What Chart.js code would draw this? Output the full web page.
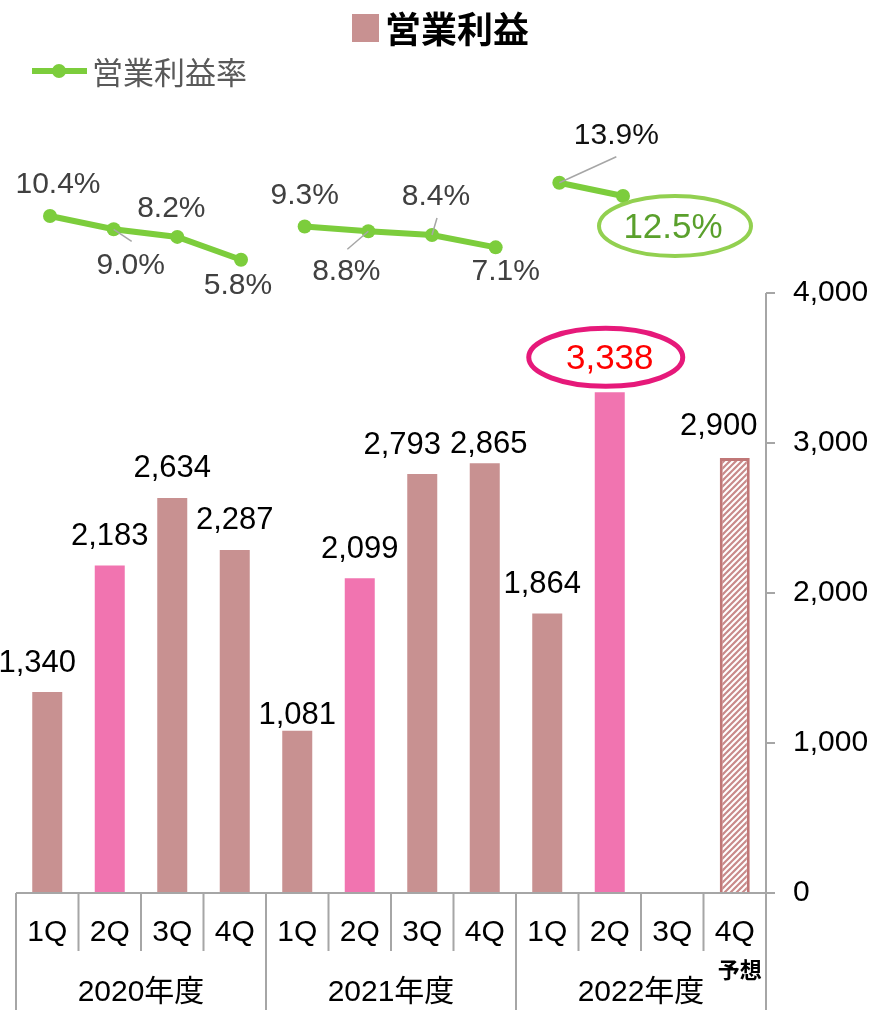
<!DOCTYPE html>
<html lang="ja">
<head>
<meta charset="utf-8">
<script src="https://cdn.jsdelivr.net/npm/chart.js@4.4.1/dist/chart.umd.min.js"></script>
<style>
  html, body { margin: 0; padding: 0; background: #fff; }
  #wrap { width: 875px; height: 1010px; }
</style>
</head>
<body>
<div id="wrap"><canvas id="profitChart" width="875" height="1010"></canvas></div>
<script>
// categories
const quarters = ['1Q', '2Q', '3Q', '4Q', '1Q', '2Q', '3Q', '4Q', '1Q', '2Q', '3Q', '4Q'];
const fiscalYears = ['2020年度', '2021年度', '2022年度'];

// 営業利益 (bars), 2022年度 3Q not yet reported, 4Q is the forecast
const operatingProfit = [1340, 2183, 2634, 2287, 1081, 2099, 2793, 2865, 1864, 3338, null, 2900];
const forecastIndex = 11;
const highlightIndex = 9;

// 営業利益率 (%), one line per fiscal year
const margin2020 = [10.4, 9.0, 8.2, 5.8];
const margin2021 = [9.3, 8.8, 8.4, 7.1];
const margin2022 = [13.9, 12.5];

const profitTicks = [0, 1000, 2000, 3000, 4000];

// label nudges (px) - kept apart from the data
const barLabelNudge = [[-10, 0], [0, 0], [0, 0], [0, 0], [0, 14], [0, 0], [-20, 0], [4, 10], [-5, 0], [0, -4], [0, 0], [-16, -3]];
// percent label offset from its point, plus leader line end (if any)
const marginLabelPos = [
    { dx: 8, dy: -31 }, { dx: 17, dy: 36, lx: 18, ly: 12 }, { dx: -6, dy: -28 }, { dx: -3, dy: 26 },
    { dx: 0, dy: -31 }, { dx: -22, dy: 41, lx: -21, ly: 18 }, { dx: 4, dy: -38, lx: 5, ly: -17 }, { dx: 10, dy: 24 },
    { dx: 57, dy: -47, lx: 57, ly: -26 }, { dx: 50, dy: 32 }
];

const FONT = '"Liberation Sans", Arial, "Noto Sans CJK JP", sans-serif';
const JFONT = '"Liberation Sans", "Noto Sans CJK JP", sans-serif';

const brown = '#c89191';
const pink = '#f174b0';
const green = '#7ccd3c';

// hatched fill for the forecast bar
function makeHatch() {
    const c = document.createElement('canvas');
    c.width = 6; c.height = 6;
    const g = c.getContext('2d');
    g.fillStyle = '#c98a8a';
    g.fillRect(0, 0, 6, 6);
    g.strokeStyle = '#ffffff';
    g.lineWidth = 2;
    g.beginPath();
    g.moveTo(0, 6); g.lineTo(6, 0);
    g.moveTo(-3, 3); g.lineTo(3, -3);
    g.moveTo(3, 9); g.lineTo(9, 3);
    g.stroke();
    return g.createPattern(c, 'repeat');
}
const hatch = makeHatch();

const barColors = operatingProfit.map((v, i) => i === forecastIndex ? hatch : (quarters[i] === '2Q' ? pink : brown));
const barBorders = operatingProfit.map((v, i) => i === forecastIndex ? 3 : 0);

function lineSet(values, start) {
    return {
        type: 'line',
        xAxisID: 'xLine',
        yAxisID: 'yMargin',
        data: values.map((v, k) => ({ x: start + k, y: v })),
        borderColor: green,
        backgroundColor: green,
        borderWidth: 6,
        pointRadius: 7,
        pointBorderWidth: 0,
        pointBackgroundColor: green,
        tension: 0
    };
}

const drawExtras = {
    id: 'drawExtras',
    afterDatasetsDraw(chart) {
        const ctx = chart.ctx;
        const area = chart.chartArea;
        const xs = chart.scales.x;
        const ys = chart.scales.y;
        ctx.save();

        // value axis line, only over the tick range
        ctx.strokeStyle = '#a6a6a6';
        ctx.lineWidth = 2;
        ctx.beginPath();
        ctx.moveTo(area.right, ys.getPixelForValue(profitTicks[profitTicks.length - 1]));
        ctx.lineTo(area.right, ys.getPixelForValue(0));
        ctx.stroke();

        // value labels above bars
        const barMeta = chart.getDatasetMeta(0);
        ctx.textAlign = 'center';
        ctx.textBaseline = 'middle';
        operatingProfit.forEach((v, i) => {
            if (v === null) return;
            const bar = barMeta.data[i];
            const x = bar.x + barLabelNudge[i][0];
            const y = bar.y - 29 + barLabelNudge[i][1];
            const txt = v.toLocaleString('en-US');
            if (i === highlightIndex) {
                ctx.strokeStyle = '#e6197a';
                ctx.lineWidth = 5;
                ctx.beginPath();
                ctx.ellipse(x - 4, y - 2, 77, 29, 0, 0, Math.PI * 2);
                ctx.stroke();
                ctx.fillStyle = '#ff0000';
                ctx.font = '35px ' + FONT;
            } else {
                ctx.fillStyle = '#000';
                ctx.font = '31px ' + FONT;
            }
            ctx.fillText(txt, x, y);
        });

        // percent labels
        const pts = [];
        [1, 2, 3].forEach(d => chart.getDatasetMeta(d).data.forEach(p => pts.push(p)));
        const margins = margin2020.concat(margin2021, margin2022);
        pts.forEach((p, i) => {
            const pos = marginLabelPos[i];
            if (pos.lx !== undefined) {
                ctx.strokeStyle = '#a6a6a6';
                ctx.lineWidth = 1.5;
                ctx.beginPath();
                ctx.moveTo(p.x, p.y);
                ctx.lineTo(p.x + pos.lx, p.y + pos.ly);
                ctx.stroke();
            }
            const txt = margins[i].toFixed(1) + '%';
            const x = p.x + pos.dx, y = p.y + pos.dy;
            if (i === margins.length - 1) {
                ctx.strokeStyle = '#92d050';
                ctx.lineWidth = 4;
                ctx.beginPath();
                ctx.ellipse(x + 2, y - 2, 76, 30, 0, 0, Math.PI * 2);
                ctx.stroke();
                ctx.fillStyle = '#5aa02c';
                ctx.font = '35px ' + FONT;
            } else {
                ctx.fillStyle = i === 8 ? '#111' : '#404040';
                ctx.font = '30px ' + FONT;
            }
            ctx.fillText(txt, x, y);
        });

        // two level category axis
        const half = (xs.getPixelForValue(1) - xs.getPixelForValue(0)) / 2;
        const base = area.bottom;
        ctx.strokeStyle = '#a6a6a6';
        ctx.lineWidth = 2;
        ctx.beginPath();
        ctx.moveTo(xs.getPixelForValue(0) - half, base);
        ctx.lineTo(area.right + 9, base);
        for (let i = 0; i <= quarters.length; i++) {
            const bx = xs.getPixelForValue(0) - half + i * half * 2;
            ctx.moveTo(bx, base);
            ctx.lineTo(bx, i % 4 === 0 ? chart.height : base + 58);
        }
        ctx.stroke();

        ctx.fillStyle = '#000';
        ctx.font = '30px ' + FONT;
        quarters.forEach((q, i) => ctx.fillText(q, xs.getPixelForValue(i), base + 40));
        ctx.font = '30px ' + JFONT;
        fiscalYears.forEach((y, k) => {
            const cx = (xs.getPixelForValue(k * 4) + xs.getPixelForValue(k * 4 + 3)) / 2;
            ctx.fillText(y, cx, base + 100);
        });
        ctx.font = 'bold 22px "Noto Sans CJK JP", sans-serif';
        ctx.fillText('予想', xs.getPixelForValue(forecastIndex) + 5, base + 77);

        // legend
        ctx.fillStyle = brown;
        ctx.fillRect(352, 14, 27, 28);
        ctx.fillStyle = '#000';
        ctx.font = 'bold 36px "Noto Sans CJK JP", sans-serif';
        ctx.textAlign = 'left';
        ctx.fillText('営業利益', 385, 29);

        ctx.strokeStyle = green;
        ctx.lineWidth = 6;
        ctx.beginPath();
        ctx.moveTo(32, 71);
        ctx.lineTo(87, 71);
        ctx.stroke();
        ctx.fillStyle = green;
        ctx.beginPath();
        ctx.arc(59, 71, 7, 0, Math.PI * 2);
        ctx.fill();
        ctx.fillStyle = '#595959';
        ctx.font = '31px "Noto Sans CJK JP", sans-serif';
        ctx.fillText('営業利益率', 92, 72);

        ctx.restore();
    }
};

const chart = new Chart(document.getElementById('profitChart').getContext('2d'), {
    type: 'bar',
    data: {
        labels: quarters,
        datasets: [
            {
                label: '営業利益',
                data: operatingProfit,
                backgroundColor: barColors,
                borderColor: '#c07777',
                borderWidth: barBorders,
                barPercentage: 0.48,
                categoryPercentage: 1,
                grouped: false,
                xAxisID: 'x',
                yAxisID: 'y'
            },
            Object.assign(lineSet(margin2020, 0), { label: '営業利益率' }),
            lineSet(margin2021, 4),
            lineSet(margin2022, 8)
        ]
    },
    options: {
        responsive: false,
        animation: false,
        devicePixelRatio: 1,
        // plot area runs from y=100 to y=893; the bar axis only uses the lower 600px
        layout: { padding: { top: 100, bottom: 117, left: 16, right: 0 } },
        plugins: {
            legend: { display: false },
            tooltip: { enabled: false }
        },
        scales: {
            x: { type: 'category', display: false, offset: true },
            xLine: { type: 'linear', display: false, offset: false, min: -0.534, max: 11.246 },
            y: {
                position: 'right',
                min: 0,
                max: 5286.67,
                afterBuildTicks: s => { s.ticks = profitTicks.map(v => ({ value: v })); },
                afterFit: s => { s.width = 109; },
                ticks: {
                    padding: 18,
                    color: '#000',
                    font: { size: 30, family: FONT },
                    callback: v => v.toLocaleString('en-US')
                },
                grid: { drawOnChartArea: false, tickLength: 9, color: '#a6a6a6', lineWidth: 2 },
                border: { display: false }
            },
            // margin axis, placed so the line sits above the bars
            yMargin: { type: 'linear', display: false, offset: false, min: -60.86, max: 22.61 }
        }
    },
    plugins: [drawExtras]
});
</script>
</body>
</html>
